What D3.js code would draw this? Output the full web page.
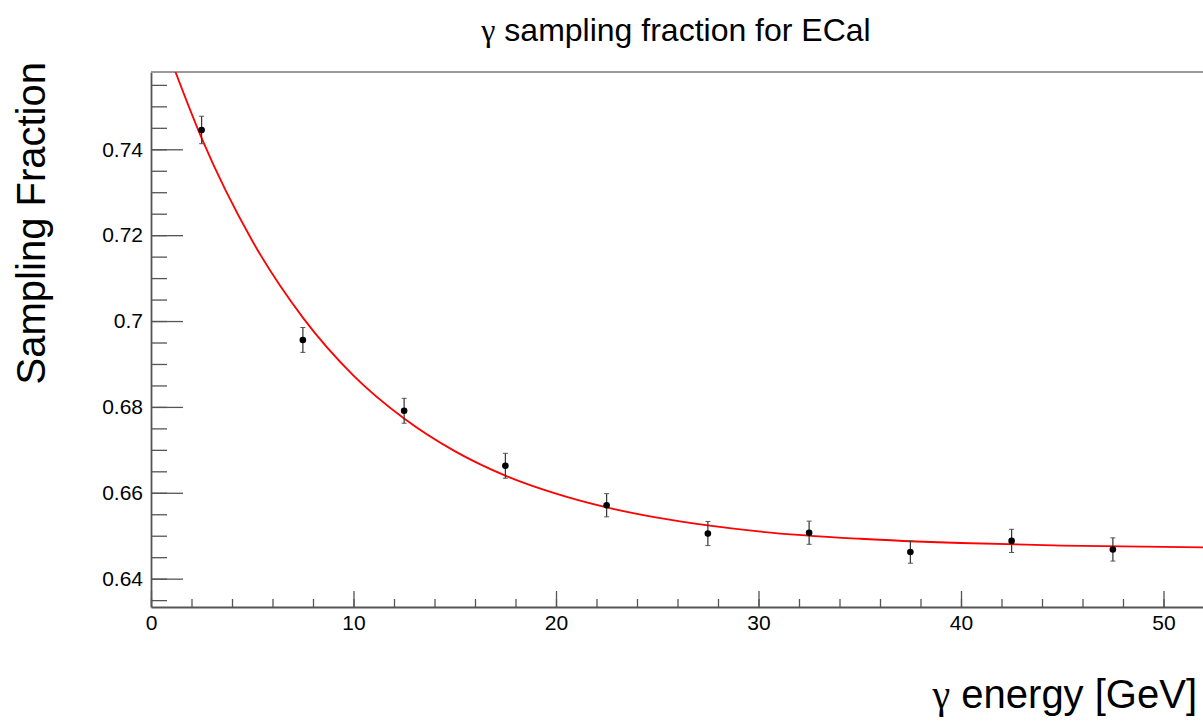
<!DOCTYPE html>
<html>
<head>
<meta charset="utf-8">
<script src="https://cdn.jsdelivr.net/npm/d3@7"></script>
<style>
  body { margin: 0; background: #fff; }
  svg { display: block; font-family: "Liberation Sans", Arial, sans-serif; }
  .tick text { font-family: "Liberation Sans", Arial, sans-serif; font-size: 21px; fill: #000; }
</style>
</head>
<body>
<svg width="1203" height="724"></svg>
<script>
// measured points (gamma energy bins) and their errors
const energies = [2.5, 7.5, 12.5, 17.5, 22.5, 27.5, 32.5, 37.5, 42.5, 47.5];
const fraction = [0.7445, 0.6956, 0.6791, 0.6663, 0.6571, 0.6505, 0.6507, 0.6462, 0.6488, 0.6468];
const fracErr  = [0.0032, 0.0029, 0.0029, 0.0029, 0.0027, 0.0028, 0.0027, 0.0026, 0.0027, 0.0027];

// red fit curve
const fitX = [1.0, 2.5, 5, 7.5, 10, 12.5, 15, 17.5, 20, 22.5, 25, 27.5, 30, 35, 40, 45, 52];
const fitY = [0.7606, 0.7426, 0.7187, 0.7008, 0.6873, 0.6773, 0.6697, 0.6640, 0.6598, 0.6566,
              0.6542, 0.6524, 0.6510, 0.6493, 0.6483, 0.6477, 0.6473];

const xMajor = [0, 10, 20, 30, 40, 50];
const yMajor = [0.64, 0.66, 0.68, 0.7, 0.72, 0.74];

const svg = d3.select("svg");
const padL = 151, padR = 1204, padT = 72, padB = 607;

const x = d3.scaleLinear().domain([0, 52]).range([padL, padR]);
const y = d3.scaleLinear().domain([0.6334, 0.758]).range([padB, padT]);

svg.append("defs").append("clipPath").attr("id", "frame")
  .append("rect")
  .attr("x", padL).attr("y", padT)
  .attr("width", padR - padL).attr("height", padB - padT);

// minor ticks
svg.append("g")
  .attr("transform", `translate(0,${padB})`)
  .call(d3.axisBottom(x).tickValues(d3.range(0, 53, 2)).tickSize(-8).tickFormat(""))
  .call(g => g.select(".domain").remove());
svg.append("g")
  .attr("transform", `translate(${padL},0)`)
  .call(d3.axisLeft(y).tickValues(d3.range(0.635, 0.7575, 0.005)).tickSize(-16).tickFormat(""))
  .call(g => g.select(".domain").remove());

// major ticks + labels
svg.append("g")
  .attr("transform", `translate(0,${padB})`)
  .call(d3.axisBottom(x).tickValues(xMajor).tickSizeInner(-16).tickSizeOuter(0)
    .tickPadding(8).tickFormat(d3.format("d")));
svg.append("g")
  .attr("transform", `translate(${padL},0)`)
  .call(d3.axisLeft(y).tickValues(yMajor).tickSizeInner(-32).tickSizeOuter(0)
    .tickPadding(8).tickFormat(d => +d.toFixed(2)));

svg.selectAll(".domain, .tick line").attr("stroke", "#555").attr("stroke-width", 1.3);
svg.selectAll(".domain").attr("stroke-width", 1.8);

// top border
svg.append("line")
  .attr("x1", padL).attr("x2", padR).attr("y1", padT).attr("y2", padT)
  .attr("stroke", "#999").attr("stroke-width", 1.8);

// fit curve
svg.append("path")
  .datum(fitX.map((v, i) => [v, fitY[i]]))
  .attr("clip-path", "url(#frame)")
  .attr("fill", "none")
  .attr("stroke", "#f00")
  .attr("stroke-width", 1.8)
  .attr("d", d3.line().x(d => x(d[0])).y(d => y(d[1])).curve(d3.curveMonotoneX));

// error bars
const pts = svg.append("g");
energies.forEach((e, i) => {
  const cx = x(e), y0 = y(fraction[i] - fracErr[i]), y1 = y(fraction[i] + fracErr[i]);
  pts.append("line").attr("x1", cx).attr("x2", cx).attr("y1", y0).attr("y2", y1)
    .attr("stroke", "#333").attr("stroke-width", 1.2);
  [y0, y1].forEach(yy => pts.append("line")
    .attr("x1", cx - 2.5).attr("x2", cx + 2.5).attr("y1", yy).attr("y2", yy)
    .attr("stroke", "#555").attr("stroke-width", 1));
});
pts.selectAll("circle")
  .data(energies)
  .join("circle")
  .attr("cx", d => x(d))
  .attr("cy", (d, i) => y(fraction[i]))
  .attr("r", 3.3)
  .attr("fill", "#000");

// titles
const title = svg.append("text")
  .attr("x", 676).attr("y", 41)
  .attr("text-anchor", "middle")
  .attr("font-size", 32);
title.append("tspan").attr("font-family", "Liberation Serif").text("γ");
title.append("tspan").text(" sampling fraction for ECal");

svg.append("text")
  .attr("transform", "translate(45,62) rotate(-90)")
  .attr("text-anchor", "end")
  .attr("font-size", 40)
  .text("Sampling Fraction");

const xt = svg.append("text")
  .attr("x", 1197).attr("y", 708)
  .attr("text-anchor", "end")
  .attr("font-size", 40);
xt.append("tspan").attr("font-family", "Liberation Serif").text("γ");
xt.append("tspan").text(" energy [GeV]");
</script>
</body>
</html>
